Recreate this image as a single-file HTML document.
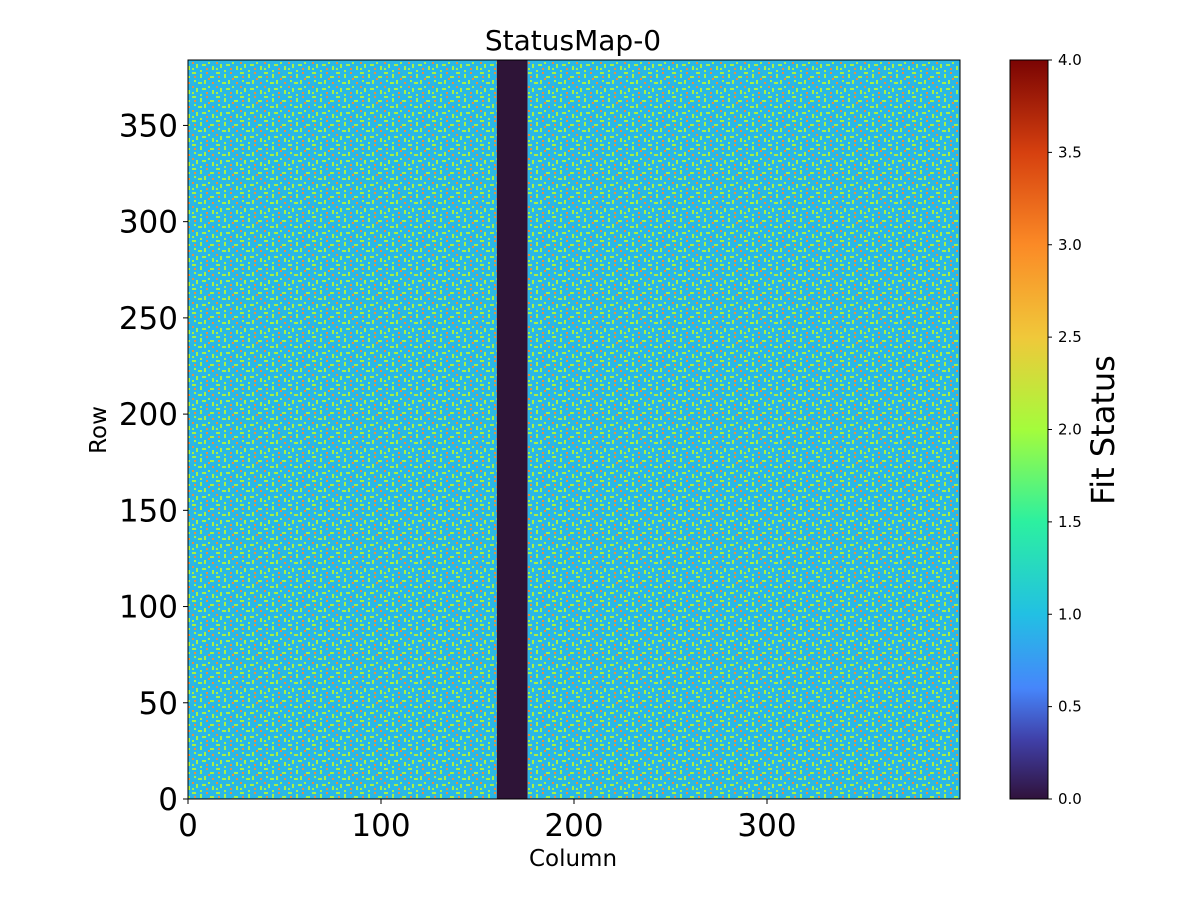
<!DOCTYPE html>
<html><head><meta charset="utf-8"><style>
body{margin:0;background:#fff;}
svg text{font-family:"DejaVu Sans","Liberation Sans",sans-serif;fill:#000;}
</style></head><body>
<svg id="chart" width="1200" height="900" viewBox="0 0 1200 900">
<defs>
<linearGradient id="turbo" x1="0" y1="1" x2="0" y2="0">
<stop offset="0" stop-color="#30123b"/><stop offset="0.08" stop-color="#4040a8"/>
<stop offset="0.15" stop-color="#4686fb"/><stop offset="0.25" stop-color="#22c0e3"/>
<stop offset="0.375" stop-color="#2cf0a0"/><stop offset="0.5" stop-color="#a4fc3c"/>
<stop offset="0.625" stop-color="#f0c83a"/><stop offset="0.75" stop-color="#fb8a26"/>
<stop offset="0.875" stop-color="#d6400f"/><stop offset="1" stop-color="#7a0403"/>
</linearGradient>
<pattern id="speckle" width="24" height="24" patternUnits="userSpaceOnUse">
<rect width="24" height="24" fill="#2ab7e6"/>
<rect x="0" y="0" width="4" height="2" fill="#a8ef42"/><rect x="8" y="2" width="2" height="4" fill="#a8ef42"/>
<rect x="14" y="0" width="2" height="2" fill="#e8903a"/><rect x="18" y="4" width="4" height="2" fill="#a8ef42"/>
<rect x="2" y="8" width="2" height="2" fill="#a8ef42"/><rect x="6" y="10" width="4" height="2" fill="#a8ef42"/>
<rect x="12" y="8" width="2" height="4" fill="#a8ef42"/><rect x="20" y="10" width="2" height="2" fill="#e8903a"/>
<rect x="0" y="14" width="2" height="2" fill="#e8903a"/><rect x="4" y="16" width="2" height="4" fill="#a8ef42"/>
<rect x="10" y="16" width="4" height="2" fill="#a8ef42"/><rect x="16" y="14" width="2" height="2" fill="#a8ef42"/>
<rect x="20" y="18" width="2" height="4" fill="#a8ef42"/><rect x="14" y="20" width="2" height="2" fill="#e8903a"/>
<rect x="0" y="20" width="2" height="2" fill="#a8ef42"/><rect x="8" y="22" width="2" height="2" fill="#a8ef42"/>
<rect x="2" y="4" width="2" height="2" fill="#e8903a"/><rect x="16" y="6" width="2" height="2" fill="#e8903a"/>
</pattern>
</defs>
<g id="plot"></g>
<text x="573" y="50" font-size="28" text-anchor="middle">StatusMap-0</text>
<text x="573" y="866" font-size="23" text-anchor="middle">Column</text>
<text transform="translate(106,430) rotate(-90)" font-size="23" text-anchor="middle">Row</text>
<rect x="1010" y="60" width="38" height="739" fill="url(#turbo)" stroke="#000" stroke-width="1"/>
<text transform="translate(1114,430) rotate(-90)" font-size="32" text-anchor="middle">Fit Status</text>
</svg>
<script>
const colStarts=[0,160,176];
const colEnds=[160,176,400];
const bandValues=[1,0,1];
const xTicks=[0,100,200,300];
const yTicks=[0,50,100,150,200,250,300,350];
const cbTicks=[0,0.5,1,1.5,2,2.5,3,3.5,4];
const X0=188,X1=960,Y0=799,Y1=60,XMAX=400,YMAX=384;
const sx=v=>X0+(v/XMAX)*(X1-X0);
const sy=v=>Y0-(v/YMAX)*(Y0-Y1);
const cy=v=>799-(v/4)*739;
const NS='http://www.w3.org/2000/svg';
const plot=document.getElementById('plot');
const svg=document.getElementById('chart');
function mk(t,a,p){const e=document.createElementNS(NS,t);for(const k in a)e.setAttribute(k,a[k]);(p||plot).appendChild(e);return e;}
colStarts.forEach((s,i)=>{
  const r=mk('rect',{x:sx(s),y:sy(YMAX),width:sx(colEnds[i])-sx(s),height:sy(0)-sy(YMAX),fill:bandValues[i]===0?'#2e1437':'url(#speckle)'});
  
  
});
const fr=mk('rect',{x:X0,y:Y1,width:X1-X0,height:Y0-Y1,fill:'none',stroke:'#000','stroke-width':1});


xTicks.forEach(v=>{
  mk('line',{x1:sx(v),x2:sx(v),y1:Y0,y2:Y0+5,stroke:'#000'});
  const t=mk('text',{x:sx(v),y:836,'font-size':31,'text-anchor':'middle'});t.textContent=v;
  
  
});
yTicks.forEach(v=>{
  mk('line',{x1:X0-5,x2:X0,y1:sy(v),y2:sy(v),stroke:'#000'});
  const t=mk('text',{x:X0-10,y:sy(v)+11,'font-size':31,'text-anchor':'end'});t.textContent=v;
  
  
});
cbTicks.forEach(v=>{
  mk('line',{x1:1048,x2:1052,y1:cy(v),y2:cy(v),stroke:'#000'},svg);
  const t=mk('text',{x:1058,y:cy(v)+5,'font-size':15},svg);t.textContent=v.toFixed(1);
  
  
});
</script>
</body></html>
